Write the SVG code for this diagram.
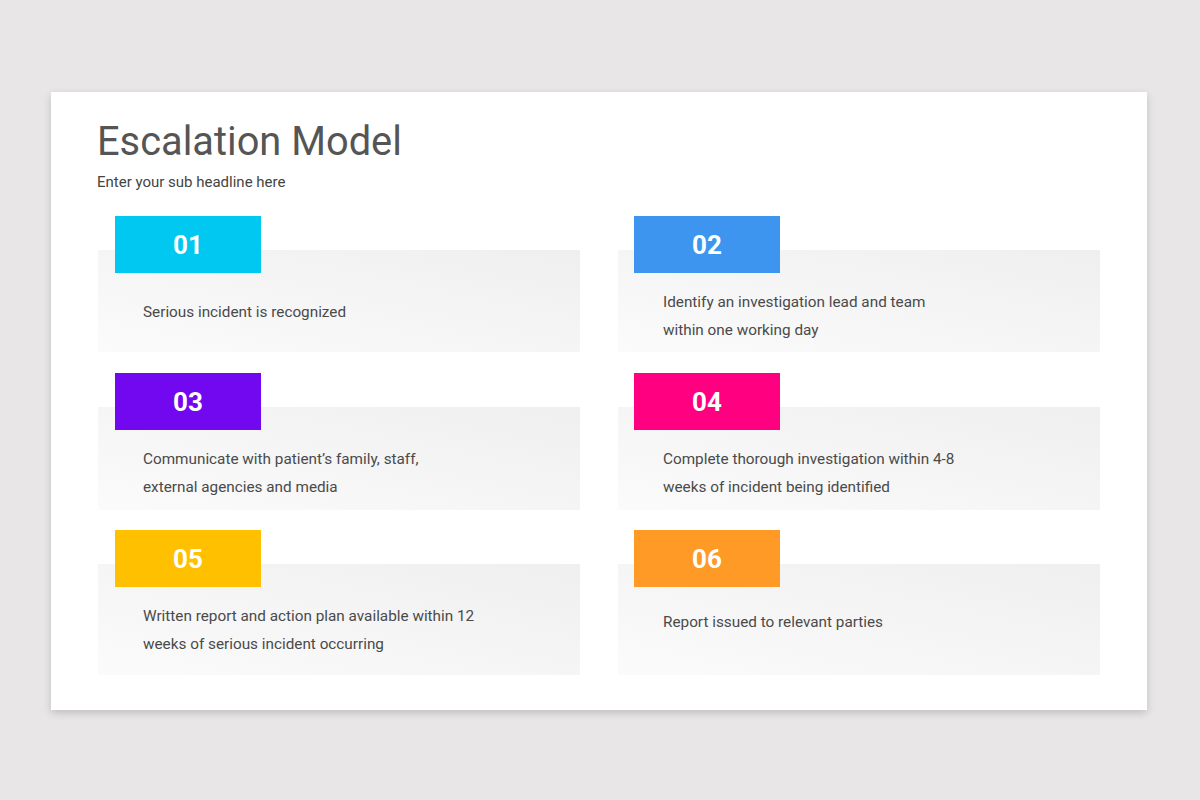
<svg xmlns="http://www.w3.org/2000/svg" width="1200" height="800" viewBox="0 0 1200 800">
<defs>
<linearGradient id="pg" x1="1" y1="0" x2="0" y2="1">
<stop offset="0" stop-color="#efeff0"/>
<stop offset="1" stop-color="#fbfbfb"/>
</linearGradient>
<filter id="sh" x="-5%" y="-5%" width="110%" height="115%">
<feGaussianBlur in="SourceAlpha" stdDeviation="4"/>
<feOffset dx="0" dy="3"/>
<feComponentTransfer><feFuncA type="linear" slope="0.18"/></feComponentTransfer>
<feMerge><feMergeNode/><feMergeNode in="SourceGraphic"/></feMerge>
</filter>
</defs>
<style>
.panel{fill:url(#pg)}
.num{font-family:Roboto,"Liberation Sans",sans-serif;font-weight:bold;font-size:26px;fill:#fff;text-anchor:middle}
.txt{font-family:Roboto,"Liberation Sans",sans-serif;font-size:15.3px;fill:#4a4a4a}
</style>
<rect width="1200" height="800" fill="#e8e6e7"/>
<rect x="51" y="92" width="1096" height="618" fill="#fff" filter="url(#sh)"/>
<text x="97" y="155" font-family="Roboto,'Liberation Sans',sans-serif" font-size="39.8" fill="#555">Escalation Model</text>
<text x="97" y="187" font-family="Roboto,'Liberation Sans',sans-serif" font-size="15" fill="#444">Enter your sub headline here</text>
<g id="node01">
<rect class="panel" x="98" y="250" width="482" height="102"/>
<rect x="115" y="216" width="146" height="57" fill="#00c8f0"/>
<text class="num" x="188" y="254">01</text>
<text class="txt" x="143" y="317">Serious incident is recognized</text>
</g>
<g id="node02">
<rect class="panel" x="618" y="250" width="482" height="102"/>
<rect x="634" y="216" width="146" height="57" fill="#3d95f0"/>
<text class="num" x="707" y="254">02</text>
<text class="txt" x="663" y="307">Identify an investigation lead and team</text>
<text class="txt" x="663" y="335">within one working day</text>
</g>
<g id="node03">
<rect class="panel" x="98" y="407" width="482" height="103"/>
<rect x="115" y="373" width="146" height="57" fill="#7208f0"/>
<text class="num" x="188" y="411">03</text>
<text class="txt" x="143" y="464">Communicate with patient’s family, staff,</text>
<text class="txt" x="143" y="492">external agencies and media</text>
</g>
<g id="node04">
<rect class="panel" x="618" y="407" width="482" height="103"/>
<rect x="634" y="373" width="146" height="57" fill="#ff0080"/>
<text class="num" x="707" y="411">04</text>
<text class="txt" x="663" y="464">Complete thorough investigation within 4-8</text>
<text class="txt" x="663" y="492">weeks of incident being identified</text>
</g>
<g id="node05">
<rect class="panel" x="98" y="564" width="482" height="111"/>
<rect x="115" y="530" width="146" height="57" fill="#ffc000"/>
<text class="num" x="188" y="568">05</text>
<text class="txt" x="143" y="621">Written report and action plan available within 12</text>
<text class="txt" x="143" y="649">weeks of serious incident occurring</text>
</g>
<g id="node06">
<rect class="panel" x="618" y="564" width="482" height="111"/>
<rect x="634" y="530" width="146" height="57" fill="#ff9a27"/>
<text class="num" x="707" y="568">06</text>
<text class="txt" x="663" y="627">Report issued to relevant parties</text>
</g>
<g id="connectors"/>
</svg>
